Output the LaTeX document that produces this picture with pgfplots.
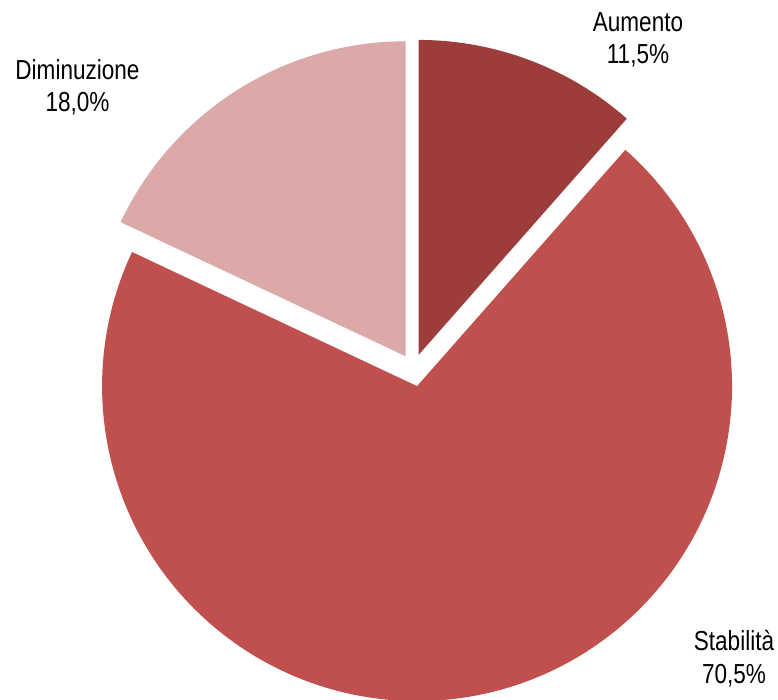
\documentclass[border=0pt]{standalone}
\usepackage{fontspec}
\setmainfont{Liberation Sans}[FakeStretch=0.82]
\usepackage{pgfplots}
\pgfplotsset{compat=1.18}
\definecolor{cA}{HTML}{9C3D3C}
\definecolor{cS}{HTML}{C0504D}
\definecolor{cD}{HTML}{DAA9A8}
\begin{document}
\begin{tikzpicture}
% data (percent)
\def\vA{11.5}\def\vS{70.5}\def\vD{18.0}
\def\cx{413.4}\def\cy{331.5}\def\R{315}
\pgfmathsetmacro\aA{90}
\pgfmathsetmacro\aB{\aA-3.6*\vA}
\pgfmathsetmacro\aC{\aB-3.6*\vS}
\pgfmathsetmacro\aD{\aC-3.6*\vD}
\pgfmathsetmacro\mA{(\aA+\aB)/2}
\pgfmathsetmacro\mS{(\aB+\aC)/2}
\pgfmathsetmacro\mD{(\aC+\aD)/2}
\pgfmathsetmacro\axA{\cx+14.5*cos(\mA)}
\pgfmathsetmacro\ayA{\cy+14.5*sin(\mA)}
\pgfmathsetmacro\axS{\cx+18*cos(\mS)}
\pgfmathsetmacro\ayS{\cy+18*sin(\mS)}
\pgfmathsetmacro\axD{\cx+14.5*cos(\mD)}
\pgfmathsetmacro\ayD{\cy+14.5*sin(\mD)}
\begin{axis}[
  width=778bp, height=700bp, scale only axis,
  xmin=0, xmax=778, ymin=0, ymax=700,
  hide axis, clip=true,
]
\addplot[fill=cA, draw=none, domain=\aB:\aA, samples=60]
  ({\axA+\R*cos(x)}, {\ayA+\R*sin(x)}) -- (axis cs:\axA,\ayA) -- cycle;
\addplot[fill=cS, draw=none, domain=\aC:\aB, samples=200]
  ({\axS+\R*cos(x)}, {\ayS+\R*sin(x)}) -- (axis cs:\axS,\ayS) -- cycle;
\addplot[fill=cD, draw=none, domain=\aD:\aC, samples=80]
  ({\axD+\R*cos(x)}, {\ayD+\R*sin(x)}) -- (axis cs:\axD,\ayD) -- cycle;
\path (rel axis cs:0,0) rectangle (rel axis cs:1,1);
\begin{scope}[every node/.style={anchor=base, inner sep=0pt, font=\fontsize{27.5bp}{32bp}\selectfont}]
\node at (axis cs:638,668.3) {Aumento};
\node at (axis cs:638,636.8) {11,5\%};
\node at (axis cs:77.5,620) {Diminuzione};
\node at (axis cs:77.5,588.3) {18,0\%};
\node at (axis cs:734,49.5) {Stabilità};
\node at (axis cs:734,16.5) {70,5\%};
\end{scope}
\end{axis}
\end{tikzpicture}
\end{document}
